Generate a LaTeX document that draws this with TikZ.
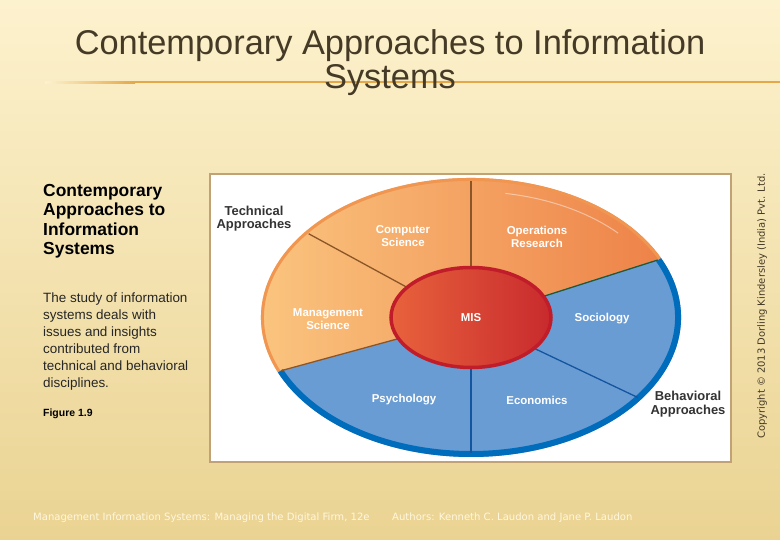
\documentclass[tikz,border=0pt]{standalone}
\usepackage{fontspec}
\setmainfont{Liberation Sans}
\newfontfamily\footfont{DejaVu Sans}
\usepackage{xcolor}
\usepackage{tikz}
\usetikzlibrary{shapes.geometric,calc}
\definecolor{slidetop}{RGB}{253,242,206}
\definecolor{slidebot}{RGB}{234,211,146}
\definecolor{ruleorange}{RGB}{228,168,72}
\definecolor{titlebrown}{RGB}{68,58,38}
\definecolor{framebrown}{RGB}{192,162,118}
\definecolor{techlight}{RGB}{251,201,130}
\definecolor{techdark}{RGB}{238,130,72}
\definecolor{techrim}{RGB}{240,150,80}
\definecolor{techline}{RGB}{140,85,40}
\definecolor{sociogreen}{RGB}{30,90,60}
\definecolor{behavfill}{RGB}{106,156,212}
\definecolor{behavrim}{RGB}{0,108,188}
\definecolor{behavline}{RGB}{20,85,160}
\definecolor{misred}{RGB}{200,42,45}
\definecolor{misorange}{RGB}{232,98,60}
\definecolor{misrim}{RGB}{192,28,42}
\definecolor{footcream}{RGB}{255,248,222}

\begin{document}
\begin{tikzpicture}[x=1bp, y=1bp,
    seglabel/.style={font=\fontsize{11.5}{13}\selectfont\bfseries, text=white, align=center, inner sep=0pt},
    approach/.style={font=\fontsize{13}{13.5}\selectfont\bfseries, text=black!80, align=center, inner sep=0pt},
    sidetext/.style={align=left, anchor=north west, inner sep=0pt},
    footnote/.style={anchor=base west, inner sep=0pt, font=\footfont\fontsize{10.1}{11}\selectfont, text=footcream},
    divider/.style={line width=1.3bp}]
  % Slide background and title rule
  \shade[top color=slidetop, bottom color=slidebot] (0,0) rectangle (780,540);
  \useasboundingbox (0,0) rectangle (780,540);
  \shade[left color=slidetop, right color=ruleorange] (45,456.5) rectangle (135,458.5);
  \fill[ruleorange] (135,456.5) rectangle (780,458.5);
  \node[font=\fontsize{34.5}{34}\selectfont, text=titlebrown, align=center, inner sep=0pt] (title) at (390,477) {Contemporary Approaches to Information\\Systems};

  % Side text
  \node[sidetext, font=\fontsize{17.5}{19.5}\selectfont\bfseries] (sidehead) at (43,356) {Contemporary\\Approaches to\\Information\\Systems};
  \node[sidetext, font=\fontsize{13.5}{17}\selectfont, text=black!85] (sidebody) at (43,247) {The study of information\\systems deals with\\issues and insights\\contributed from\\technical and behavioral\\disciplines.};
  \node[sidetext, font=\fontsize{10.5}{12}\selectfont\bfseries] (figno) at (43,131) {Figure 1.9};

  % Figure frame
  \draw[framebrown, line width=2.5bp, fill=white] (210,78) rectangle (731,366);

  % Wheel halves
  \coordinate (hub) at (471,222.5);
  \shade[left color=techlight, right color=techdark] ($(hub)+(25:210bp and 139.5bp)$) arc[start angle=25, end angle=203, x radius=210bp, y radius=139.5bp] -- ($(hub)+(205:80bp and 50bp)$) arc[start angle=205, end angle=25, x radius=80bp, y radius=50bp] -- cycle;
  \fill[behavfill] ($(hub)+(25:210bp and 139.5bp)$) arc[start angle=25, end angle=-157, x radius=210bp, y radius=139.5bp] -- ($(hub)+(-155:80bp and 50bp)$) arc[start angle=-155, end angle=25, x radius=80bp, y radius=50bp] -- cycle;
  \draw[techrim, line width=3bp] ($(hub)+(25:208.5bp and 138bp)$) arc[start angle=25, end angle=203, x radius=208.5bp, y radius=138bp];
  \draw[behavrim, line width=6bp] ($(hub)+(25:207bp and 136.5bp)$) arc[start angle=25, end angle=-157, x radius=207bp, y radius=136.5bp];
  \draw[white, opacity=0.45, line width=1bp] ($(hub)+(80:198bp and 126bp)$) arc[start angle=80, end angle=42, x radius=198bp, y radius=126bp];

  % Dividers between disciplines
  \foreach \ai/\ao/\col in {90/90/techline, 143/142/techline, 205/203/techline, 25/25/sociogreen, -38/-36/behavline, -90/-90/behavline}
    \draw[divider, \col] ($(hub)+(\ai:80bp and 50bp)$) -- ($(hub)+(\ao:206bp and 136bp)$);

  % Centre and labels
  \node[ellipse, minimum width=160bp, minimum height=100bp, inner sep=0pt, draw=misrim, line width=3.5bp, left color=misorange, right color=misred, font=\fontsize{11.5}{13}\selectfont\bfseries, text=white] (mis) at (hub) {MIS};
  \node[seglabel] (cs) at (403,303.5) {Computer\\Science};
  \node[seglabel] (or) at (537,303.5) {Operations\\Research};
  \node[seglabel] (ms) at (328,220.5) {Management\\Science};
  \node[seglabel] (soc) at (602,221) {Sociology};
  \node[seglabel] (psy) at (404,140) {Psychology};
  \node[seglabel] (eco) at (537,140) {Economics};
  \node[approach] (tech) at (254,321.5) {Technical\\Approaches};
  \node[approach] (behav) at (688,136) {Behavioral\\Approaches};

  % Credits
  \node[rotate=90, inner sep=0pt, font=\footfont\fontsize{10}{11}\selectfont, text=titlebrown] (copy) at (762,234) {Copyright © 2013 Dorling Kindersley (India) Pvt. Ltd.};
  \node[footnote] (book) at (33,19) {Management Information Systems: Managing the Digital Firm, 12e};
  \node[footnote] (authors) at (392,19) {Authors: Kenneth C. Laudon and Jane P. Laudon};
\end{tikzpicture}
\end{document}
